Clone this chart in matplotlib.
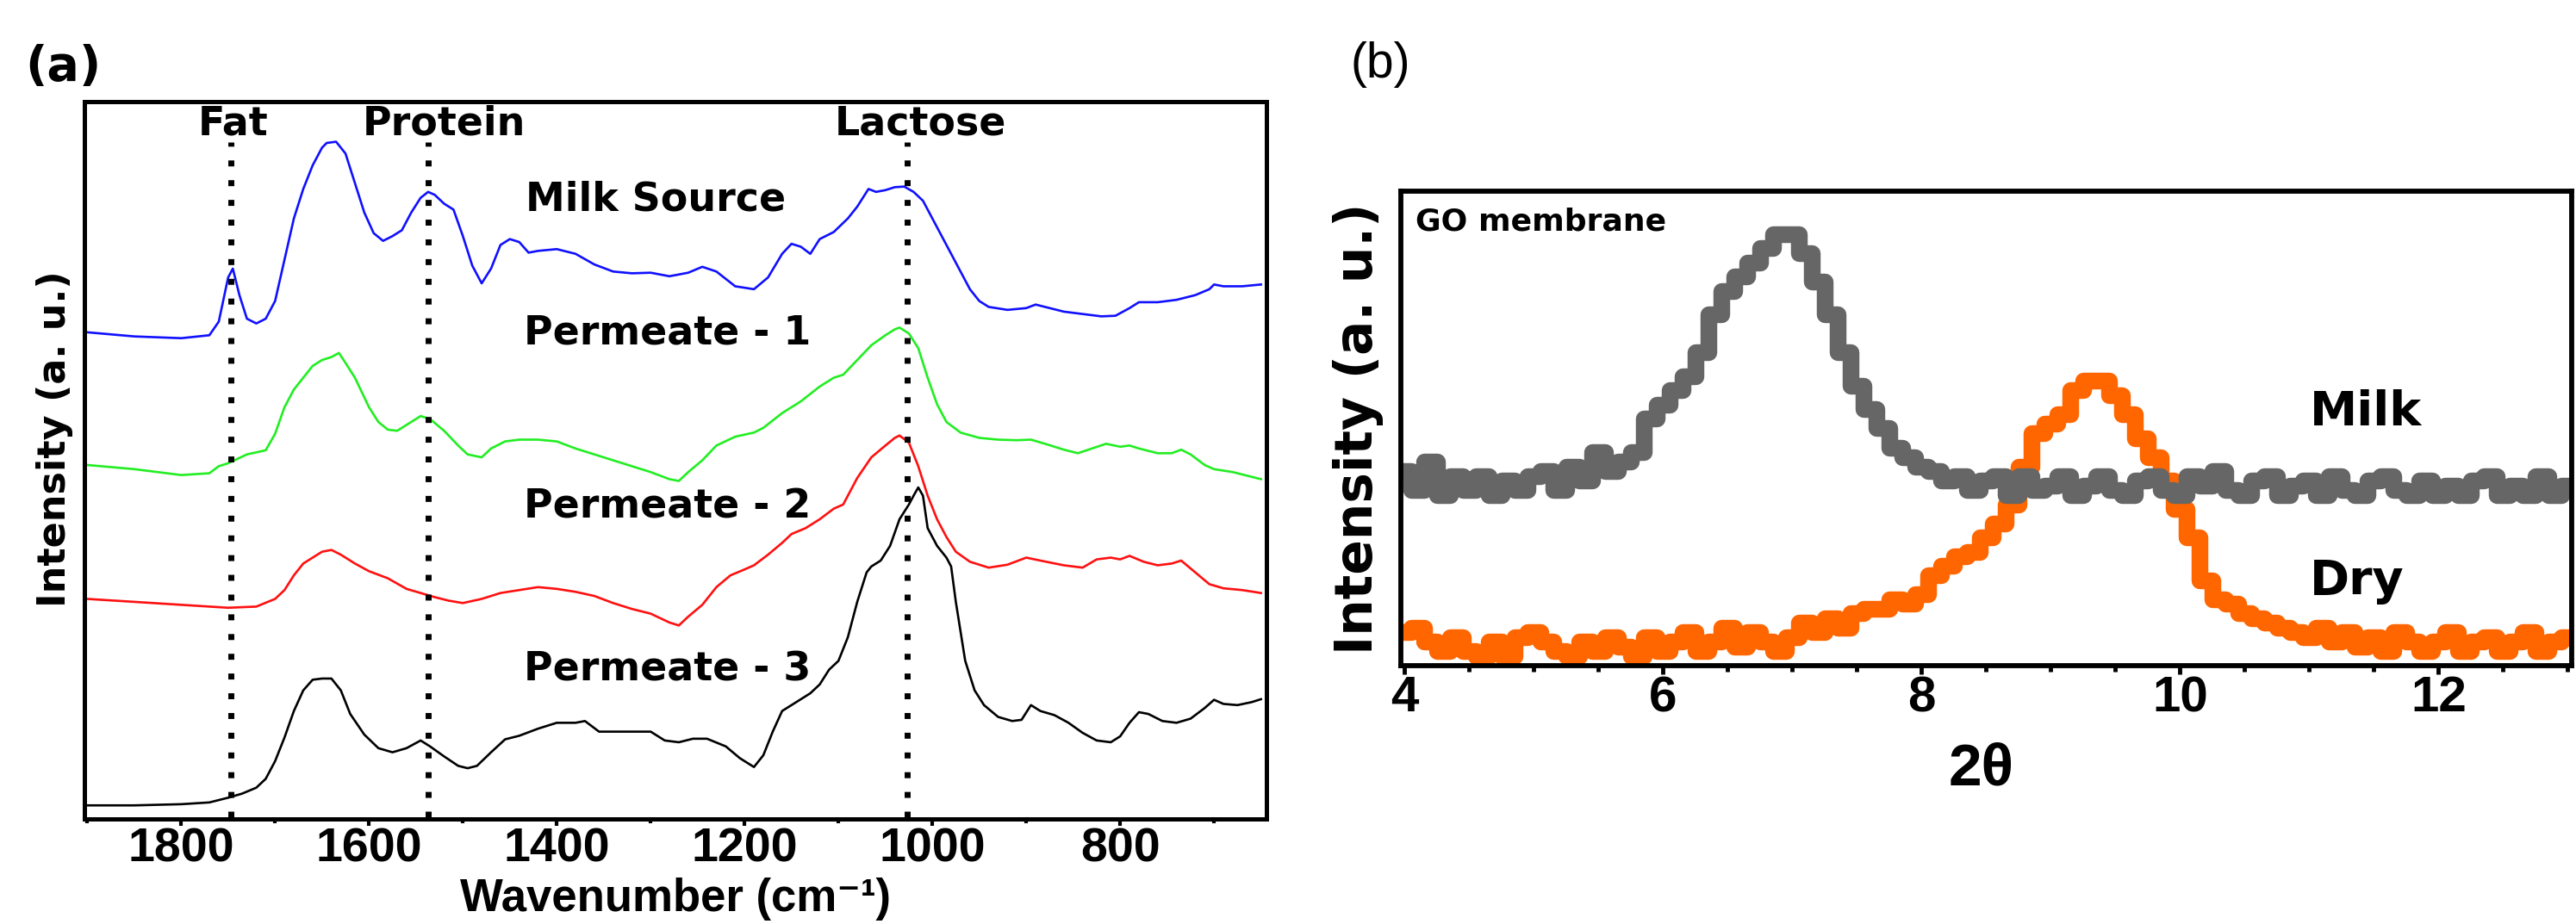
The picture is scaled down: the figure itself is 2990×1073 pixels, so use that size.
import numpy as np
import matplotlib.pyplot as plt
from matplotlib.ticker import MultipleLocator

# %%
# (a) FTIR spectra (stacked, arbitrary units)
wn_milk = [1900, 1850, 1800, 1770, 1760, 1750, 1745, 1738, 1730, 1720, 1710, 1700, 1690, 1680, 1670,
           1660, 1650, 1645, 1635, 1625, 1615, 1605, 1595, 1585, 1575, 1565, 1555, 1545, 1537, 1530,
           1520, 1510, 1500, 1490, 1480, 1470, 1460, 1450, 1440, 1430, 1420, 1400, 1380, 1360, 1340,
           1320, 1300, 1280, 1260, 1245, 1230, 1210, 1190, 1175, 1160, 1150, 1140, 1130, 1120, 1105,
           1090, 1080, 1068, 1060, 1050, 1040, 1030, 1020, 1010, 1000, 990, 980, 970, 960, 950,
           940, 920, 900, 890, 880, 860, 840, 820, 805, 790, 780, 760, 740, 720, 705,
           700, 690, 670, 650]
int_milk = [82.2, 81.5, 81.2, 81.7, 84.0, 91.5, 93.0, 88.5, 84.5, 83.7, 84.5, 87.5, 94.5, 101.5, 106.5,
            110.5, 113.5, 114.3, 114.5, 112.5, 107.5, 102.5, 99.0, 97.7, 98.5, 99.5, 102.5, 105.0, 106.0, 105.5,
            104.0, 103.0, 98.5, 93.5, 90.5, 93.0, 97.0, 98.0, 97.5, 95.7, 96.0, 96.3, 95.5, 93.7, 92.5,
            92.2, 92.3, 91.7, 92.3, 93.3, 92.5, 90.0, 89.5, 91.5, 95.5, 97.2, 96.7, 95.5, 98.0, 99.2,
            101.5, 103.5, 106.5, 106.0, 106.3, 106.8, 106.9, 106.0, 104.5, 101.5, 98.5, 95.5, 92.5, 89.5, 87.5,
            86.5, 86.0, 86.3, 86.9, 86.5, 85.7, 85.3, 84.9, 85.0, 86.3, 87.3, 87.3, 87.7, 88.5, 89.5,
            90.3, 90.0, 90.0, 90.3]

wn_p1 = [1900, 1850, 1800, 1770, 1760, 1750, 1730, 1710, 1700, 1690, 1680, 1670, 1660, 1650, 1640,
         1632, 1625, 1615, 1600, 1590, 1580, 1570, 1560, 1545, 1535, 1520, 1505, 1495, 1480, 1470,
         1455, 1440, 1420, 1400, 1380, 1360, 1340, 1320, 1300, 1280, 1270, 1260, 1245, 1230, 1210,
         1190, 1180, 1160, 1140, 1120, 1105, 1095, 1080, 1065, 1050, 1040, 1035, 1025, 1015, 1005,
         995, 985, 970, 950, 930, 910, 895, 880, 860, 845, 830, 815, 800, 790, 780,
         760, 745, 735, 725, 710, 700, 680, 660, 650]
int_p1 = [59.7, 59.0, 58.0, 58.3, 59.5, 60.0, 61.5, 62.2, 65.0, 69.5, 72.5, 74.5, 76.5, 77.5, 78.0,
          78.7, 77.0, 74.5, 69.5, 67.0, 65.7, 65.5, 66.5, 68.0, 67.5, 65.5, 63.0, 61.5, 61.0, 62.5,
          63.7, 64.0, 64.0, 63.7, 62.5, 61.5, 60.5, 59.5, 58.5, 57.3, 57.0, 58.5, 60.5, 63.0, 64.5,
          65.2, 66.0, 68.5, 70.5, 73.0, 74.5, 75.0, 77.5, 80.0, 81.7, 82.7, 83.0, 82.0, 79.5, 74.5,
          70.0, 67.0, 65.2, 64.3, 64.0, 63.9, 64.0, 63.3, 62.3, 61.7, 62.5, 63.3, 62.8, 63.0, 62.5,
          61.7, 61.7, 62.3, 61.5, 59.7, 59.0, 58.5, 57.7, 57.3]

wn_p2 = [1900, 1850, 1800, 1750, 1720, 1700, 1690, 1680, 1670, 1660, 1650, 1640, 1630, 1615, 1600,
         1580, 1560, 1545, 1530, 1515, 1500, 1480, 1460, 1440, 1420, 1400, 1380, 1360, 1340, 1320,
         1300, 1280, 1270, 1260, 1245, 1230, 1215, 1200, 1190, 1175, 1160, 1150, 1135, 1120, 1105,
         1095, 1080, 1065, 1050, 1040, 1035, 1025, 1015, 1005, 995, 985, 975, 960, 940, 920,
         900, 885, 860, 840, 825, 810, 800, 790, 775, 760, 745, 735, 720, 705, 690,
         670, 650]
int_p2 = [37.0, 36.5, 36.0, 35.5, 35.7, 37.0, 38.5, 41.0, 43.0, 44.0, 45.0, 45.3, 44.5, 43.0, 41.7,
          40.5, 38.7, 38.0, 37.3, 36.7, 36.3, 37.0, 38.0, 38.5, 39.0, 38.7, 38.2, 37.5, 36.3, 35.3,
          34.5, 33.0, 32.5, 34.0, 36.0, 39.0, 41.0, 42.0, 42.7, 44.5, 46.5, 48.0, 49.0, 50.5, 52.3,
          53.0, 57.5, 61.0, 63.0, 64.3, 64.7, 63.5, 59.5, 54.5, 50.5, 47.5, 45.0, 43.3, 42.3, 42.8,
          44.0, 43.5, 42.7, 42.3, 43.7, 44.0, 43.7, 44.3, 43.3, 42.7, 43.0, 43.5, 41.5, 39.5, 38.8,
          38.5, 38.0]

wn_p3 = [1900, 1850, 1800, 1770, 1750, 1735, 1720, 1710, 1700, 1690, 1680, 1670, 1660, 1650, 1640,
         1630, 1620, 1605, 1590, 1575, 1560, 1545, 1535, 1520, 1505, 1495, 1485, 1470, 1455, 1440,
         1420, 1400, 1380, 1370, 1355, 1330, 1300, 1285, 1270, 1255, 1240, 1220, 1205, 1190, 1180,
         1170, 1160, 1150, 1140, 1130, 1120, 1110, 1100, 1090, 1080, 1070, 1065, 1055, 1045, 1035,
         1025, 1020, 1015, 1010, 1005, 995, 985, 980, 975, 965, 955, 945, 930, 915, 905,
         895, 885, 870, 855, 840, 825, 810, 800, 790, 780, 770, 755, 740, 725, 710,
         700, 690, 675, 660, 650]
int_p3 = [2.0, 2.0, 2.2, 2.5, 3.3, 4.0, 5.0, 6.5, 9.5, 13.5, 18.0, 21.5, 23.3, 23.5, 23.5,
          21.5, 17.5, 14.0, 11.7, 11.0, 11.7, 13.0, 12.0, 10.3, 8.7, 8.3, 8.7, 11.0, 13.2, 13.8,
          15.0, 16.0, 16.0, 16.3, 14.5, 14.5, 14.5, 13.0, 12.7, 13.3, 13.3, 12.0, 10.0, 8.5, 10.5,
          14.5, 18.0, 19.0, 20.0, 21.0, 22.5, 25.0, 26.5, 30.5, 36.5, 41.5, 42.5, 43.5, 46.0, 50.5,
          53.0, 54.5, 55.9, 54.5, 49.0, 46.0, 44.0, 42.5, 36.5, 26.5, 21.5, 19.0, 17.0, 16.3, 16.5,
          19.0, 18.0, 17.3, 16.0, 14.3, 13.0, 12.7, 13.7, 16.0, 17.8, 17.5, 16.3, 16.0, 16.7, 18.5,
          19.9, 19.2, 19.0, 19.5, 20.0]

band_names = ['Fat', 'Protein', 'Lactose']
band_wn = [1747, 1537, 1027]
band_label_wn = [1745, 1520, 1013]

# %%
# (b) XRD of GO membrane
two_theta = np.linspace(4.0, 13.0, 91)
xrd_milk = [41, 37, 43, 36, 40, 37, 40, 36, 39, 37,
            40, 41, 37, 42, 39, 45, 41, 43, 45, 52,
            55, 58, 61, 66, 74, 79, 82, 85, 88, 91,
            91, 87, 81, 74, 66, 59, 54, 50, 46, 44,
            42, 41, 39, 40, 37, 39, 40, 36, 40, 37,
            38, 40, 36, 38, 40, 37, 36, 39, 40, 37,
            36, 40, 38, 41, 37, 36, 39, 40, 36, 38,
            39, 36, 40, 37, 36, 39, 40, 37, 36, 39,
            36, 38, 36, 39, 40, 36, 38, 36, 40, 36, 38]
xrd_dry = [7, 8, 5, 3, 6, 3, 2, 5, 2, 6,
           7, 5, 3, 2, 5, 3, 6, 4, 2, 6,
           3, 5, 7, 3, 5, 8, 4, 7, 5, 3,
           6, 9, 7, 10, 8, 11, 12, 12, 14, 13,
           15, 19, 21, 23, 24, 27, 30, 34, 42, 49,
           51, 53, 58, 60, 60, 57, 53, 48, 44, 39,
           33, 27, 18, 14, 13, 11, 10, 9, 8, 7,
           6, 8, 5, 7, 4, 6, 3, 7, 5, 3,
           5, 7, 3, 5, 6, 3, 5, 7, 3, 5, 6]

# %%
arial = ['Liberation Sans', 'DejaVu Sans']

fig = plt.figure(figsize=(29.9, 10.73), dpi=100)

# ---- panel (a)
ax1 = fig.add_axes([0.0328, 0.1137, 0.4589, 0.7763])
ax1.plot(wn_milk, int_milk, color='#1010ff', lw=1.9)
ax1.plot(wn_p1, int_p1, color='#22ee22', lw=1.9)
ax1.plot(wn_p2, int_p2, color='#ff1010', lw=1.9)
ax1.plot(wn_p3, int_p3, color='black', lw=1.9)
for w, lw_, name in zip(band_wn, band_label_wn, band_names):
    ax1.plot([w, w], [0, 114.5], color='black', lw=5, linestyle=(0, (1, 2.3)))
    ax1.text(lw_, 117.5, name, ha='center', va='center', fontsize=33, fontweight='bold')

ax1.text(1433, 104.7, 'Milk Source', ha='left', va='center', fontsize=33, fontweight='bold')
ax1.text(1435, 82.0, 'Permeate - 1', ha='left', va='center', fontsize=33, fontweight='bold')
ax1.text(1435, 52.5, 'Permeate - 2', ha='left', va='center', fontsize=33, fontweight='bold')
ax1.text(1435, 25.0, 'Permeate - 3', ha='left', va='center', fontsize=33, fontweight='bold')

ax1.set_xlim(1903, 644)
ax1.set_ylim(-0.3, 121.3)
ax1.xaxis.set_major_locator(MultipleLocator(200))
ax1.xaxis.set_minor_locator(MultipleLocator(100))
ax1.set_yticks([])
ax1.tick_params(axis='x', which='major', direction='out', length=6, width=3, pad=1)
ax1.tick_params(axis='x', which='minor', direction='out', length=3.5, width=3)
for lab in ax1.get_xticklabels():
    lab.set_family(arial)
    lab.set_fontweight('bold')
    lab.set_fontsize(40)
for sp in ax1.spines.values():
    sp.set_linewidth(3.6)
fig.text(784 / 2990, 1 - 1058 / 1073, 'Wavenumber (cm⁻¹)', ha='center', va='baseline',
         family=arial, fontweight='bold', fontsize=38)
fig.text(64 / 2990, 1 - 510 / 1073, 'Intensity (a. u.)', rotation=90, ha='center', va='center',
         fontsize=32, fontweight='bold')
fig.text(73 / 2990, 1 - 78 / 1073, '(a)', ha='center', va='center', fontsize=40, fontweight='bold')

# ---- panel (b)
ax2 = fig.add_axes([0.5438, 0.2796, 0.4545, 0.5135])
ax2.plot(two_theta, xrd_dry, color='#ff6600', lw=14, drawstyle='steps-mid')
ax2.plot(two_theta, xrd_milk, color='#666666', lw=14, drawstyle='steps-mid')
ax2.text(0.0125, 0.936, 'GO membrane', transform=ax2.transAxes, ha='left', va='center',
         fontsize=26, fontweight='bold')
ax2.text(11.0, 53.4, 'Milk', ha='left', va='center', fontsize=40, fontweight='bold')
ax2.text(11.0, 17.8, 'Dry', ha='left', va='center', fontsize=40, fontweight='bold')
ax2.set_xlim(3.97, 13.03)
ax2.set_ylim(0, 100)
ax2.xaxis.set_major_locator(MultipleLocator(2))
ax2.xaxis.set_minor_locator(MultipleLocator(0.5))
ax2.set_yticks([])
ax2.tick_params(axis='x', which='major', direction='out', length=7.5, width=3.5, pad=0.5)
ax2.tick_params(axis='x', which='minor', direction='out', length=5, width=3.5)
for lab in ax2.get_xticklabels():
    lab.set_family(arial)
    lab.set_fontweight('bold')
    lab.set_fontsize(42)
for sp in ax2.spines.values():
    sp.set_linewidth(4.2)
fig.text(2300 / 2990, 1 - 911 / 1073, '2θ', ha='center', va='baseline',
         family=arial, fontweight='bold', fontsize=50)
fig.text(1576 / 2990, 1 - 498 / 1073, 'Intensity (a. u.)', rotation=90, ha='center', va='center',
         fontsize=43, fontweight='bold')
fig.text(1602 / 2990, 1 - 75 / 1073, '(b)', ha='center', va='center', family=arial, fontsize=41)

fig.savefig('out.png', dpi=100)
